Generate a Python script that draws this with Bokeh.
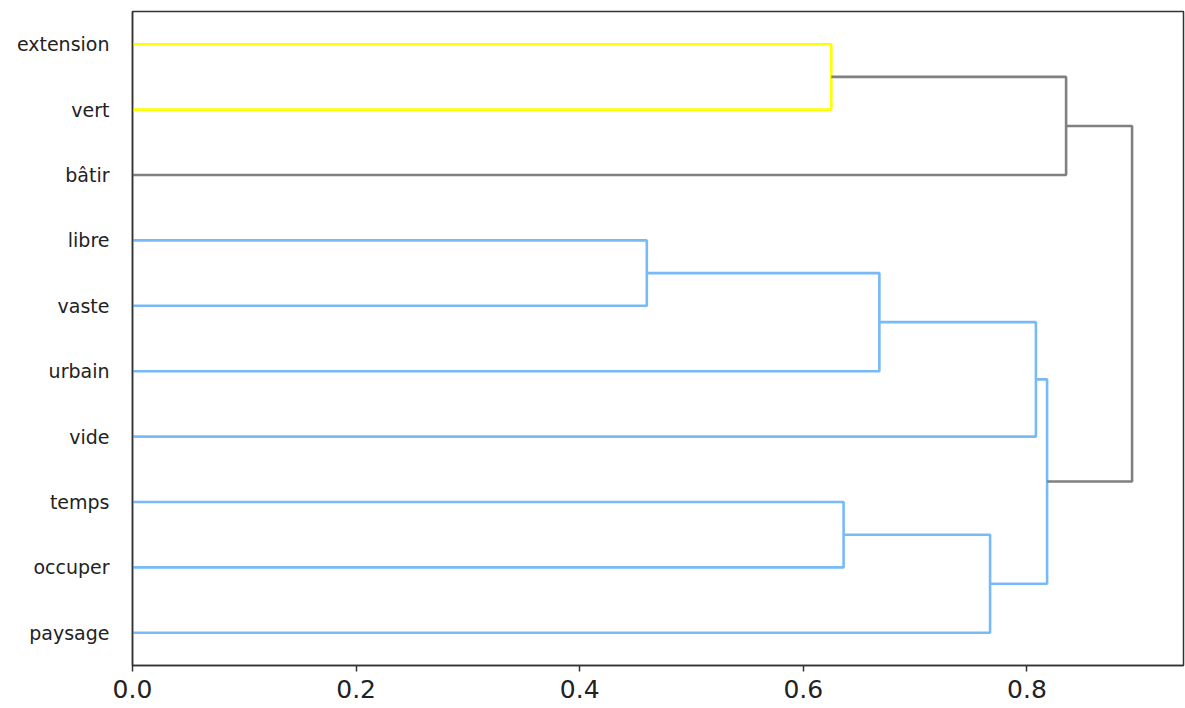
from bokeh.plotting import figure
from bokeh.models import FixedTicker, Range1d, PrintfTickFormatter, ColumnDataSource
from bokeh.embed import file_html
from bokeh.resources import INLINE

# Leaves, bottom to top
leaves = ["paysage", "occuper", "temps", "vide", "urbain", "vaste", "libre", "bâtir", "vert", "extension"]
# Merges (child a, child b, distance, colour group); new nodes numbered from len(leaves)
merge_a = [8, 5, 4, 3, 1, 0, 15, 7, 16]
merge_b = [9, 6, 11, 12, 2, 14, 13, 10, 17]
merge_h = [0.625, 0.460, 0.668, 0.808, 0.636, 0.767, 0.818, 0.835, 0.894]
merge_c = ["yellow", "blue", "blue", "blue", "blue", "blue", "blue", "grey", "grey"]
x_ticks = [0.0, 0.2, 0.4, 0.6, 0.8]

colors = {"yellow": "#ffff00", "blue": "#78b9f7", "grey": "#808080"}

pos = {i: 5 + 10 * i for i in range(len(leaves))}
hgt = {i: 0.0 for i in range(len(leaves))}
xs, ys, cs = [], [], []
for k, (a, b, h, c) in enumerate(zip(merge_a, merge_b, merge_h, merge_c)):
    node = len(leaves) + k
    xs.append([hgt[a], h, h, hgt[b]])
    ys.append([pos[a], pos[a], pos[b], pos[b]])
    cs.append(colors[c])
    pos[node] = (pos[a] + pos[b]) / 2
    hgt[node] = h

src = ColumnDataSource(dict(xs=xs, ys=ys, c=cs))

p = figure(width=1185, height=706, output_backend="svg", toolbar_location=None,
           x_range=Range1d(0, 0.94), y_range=Range1d(0, 100),
           min_border_left=132, min_border_right=2, min_border_top=11, min_border_bottom=41)
p.multi_line("xs", "ys", source=src, line_color="c", line_width=2.6)

p.grid.visible = False
p.outline_line_color = "#333333"
p.outline_line_width = 1.5
p.background_fill_color = "white"
p.border_fill_color = "white"

p.yaxis.ticker = FixedTicker(ticks=[5 + 10 * i for i in range(len(leaves))])
p.yaxis.major_label_overrides = {5 + 10 * i: name for i, name in enumerate(leaves)}
p.yaxis.major_tick_line_color = None
p.yaxis.minor_tick_line_color = None
p.yaxis.major_label_standoff = 17
p.yaxis.major_label_text_font = "DejaVu Sans"
p.yaxis.major_label_text_font_size = "19px"
p.yaxis.major_label_text_color = "#222222"
p.yaxis.axis_line_color = "#333333"
p.yaxis.axis_line_width = 1.5

p.xaxis.ticker = FixedTicker(ticks=x_ticks)
p.xaxis.formatter = PrintfTickFormatter(format="%.1f")
p.xaxis.minor_tick_line_color = None
p.xaxis.major_tick_in = 0
p.xaxis.major_tick_out = 6
p.xaxis.major_tick_line_color = "#333333"
p.xaxis.major_tick_line_width = 1.5
p.xaxis.major_label_standoff = 8
p.xaxis.major_label_text_font = "DejaVu Sans"
p.xaxis.major_label_text_font_size = "25px"
p.xaxis.major_label_text_color = "#222222"
p.xaxis.axis_line_color = "#333333"
p.xaxis.axis_line_width = 1.5

open("out.html", "w").write(file_html(p, INLINE))
